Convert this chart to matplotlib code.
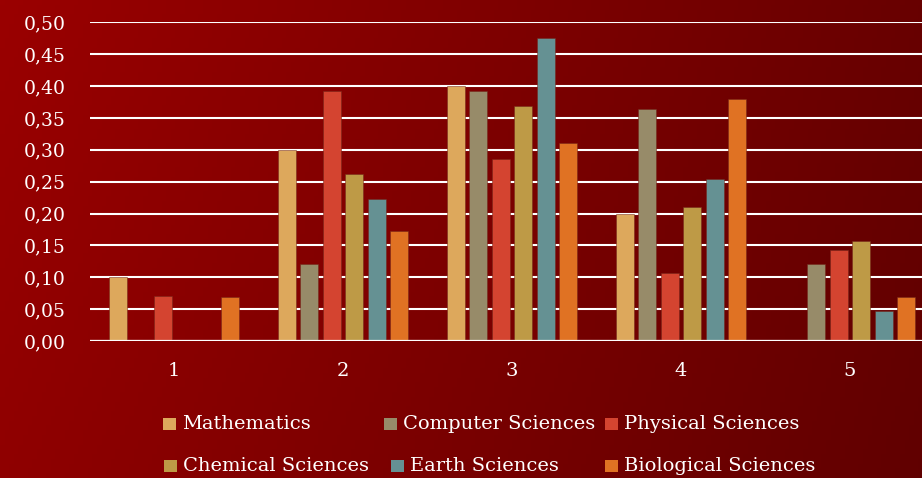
import matplotlib.pyplot as plt
import numpy as np
from matplotlib.patches import Rectangle

groups = [1, 2, 3, 4, 5]
series = ["Mathematics", "Computer Sciences", "Physical Sciences",
          "Chemical Sciences", "Earth Sciences", "Biological Sciences"]
mathematics = [0.100, 0.300, 0.400, 0.200, 0.0]
computer = [0.0, 0.121, 0.393, 0.364, 0.121]
physical = [0.071, 0.392, 0.285, 0.106, 0.143]
chemical = [0.0, 0.262, 0.368, 0.210, 0.157]
earth = [0.0, 0.222, 0.475, 0.254, 0.047]
biological = [0.069, 0.172, 0.310, 0.379, 0.069]
colors = ["#DDA85C", "#978B69", "#D44430", "#BE9A46", "#659193", "#E07223"]
yticks = [0.0, 0.05, 0.10, 0.15, 0.20, 0.25, 0.30, 0.35, 0.40, 0.45, 0.50]

values = [mathematics, computer, physical, chemical, earth, biological]

plt.rcParams['font.family'] = ['DejaVu Serif']

fig = plt.figure(figsize=(9.22, 4.78), dpi=100)

# dark red background, lighter on the left
bg = fig.add_axes([0, 0, 1, 1], zorder=-10)
xx, yy = np.meshgrid(np.linspace(0, 1, 200), np.linspace(0, 1, 100))
red = (0.604 - 0.196 * xx) * (1 - 0.07 * yy)
img = np.dstack([red, np.zeros_like(red), np.zeros_like(red)])
bg.imshow(img, aspect='auto', extent=[0, 1, 0, 1], origin='upper')
bg.axis('off')

ax = fig.add_axes([89.5 / 922, 137 / 478, 845 / 922, 318.7 / 478])
ax.patch.set_alpha(0)

step = 0.133
width = 0.104
x = np.array(groups, dtype=float)
for i, (vals, c) in enumerate(zip(values, colors)):
    off = (i - 2.5) * step
    ax.bar(x + off, vals, width=width, color=c, edgecolor=(0.45, 0.15, 0.1, 0.6),
           linewidth=0.6, zorder=3)

ax.set_xlim(0.5, 5.5)
ax.set_ylim(0, 0.5)
ax.set_yticks(yticks)
ax.set_yticklabels([("%.2f" % v).replace('.', ',') for v in yticks])
ax.set_xticks(groups)
ax.set_xticklabels([str(g) for g in groups])
ax.grid(axis='y', color='white', linewidth=1.5, zorder=1)
ax.tick_params(length=0, labelsize=14, colors='white')
ax.tick_params(axis='y', pad=17, labelsize=13.5)
ax.tick_params(axis='x', pad=15)
for s in ax.spines.values():
    s.set_visible(False)
ax.axhline(0, color='white', linewidth=1.6, zorder=4)

# legend laid out in two rows
legend_pos = [(163, 424), (384, 424), (605, 424),
              (164, 466), (391, 466), (605, 466)]
for name, c, (px, py) in zip(series, colors, legend_pos):
    fig.patches.append(Rectangle((px / 922, (478 - py - 6) / 478), 13 / 922, 12 / 478,
                                 transform=fig.transFigure, facecolor=c,
                                 edgecolor='none'))
    fig.text((px + 19) / 922, (478 - py) / 478, name, color='white',
             fontsize=14, va='center', ha='left')

fig.savefig("out.png", dpi=100)
